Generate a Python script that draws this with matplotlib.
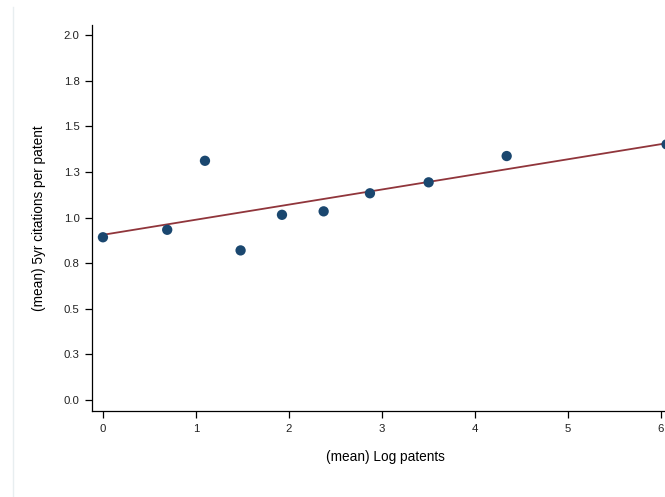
import matplotlib
matplotlib.use("Agg")
import matplotlib.pyplot as plt
from matplotlib.lines import Line2D
import numpy as np

# binned means
log_patents = [0.0, 0.691, 1.097, 1.48, 1.925, 2.373, 2.871, 3.502, 4.341, 6.06]
cites_5yr = [0.892, 0.933, 1.311, 0.820, 1.015, 1.034, 1.133, 1.193, 1.337, 1.401]

yticks = [0.0, 0.25, 0.5, 0.75, 1.0, 1.25, 1.5, 1.75, 2.0]
ytick_labels = ["0.0", "0.3", "0.5", "0.8", "1.0", "1.3", "1.5", "1.8", "2.0"]
xticks = [0, 1, 2, 3, 4, 5, 6]

plt.rcParams['font.family'] = ['Liberation Sans', 'DejaVu Sans']

fig = plt.figure(figsize=(6.65, 4.97), dpi=100)
fig.patch.set_facecolor("white")
# axes runs past the right edge of the figure, like the original
ax = fig.add_axes([0.1383, 0.173, 0.8836, 0.7767])

x = np.array(log_patents)
y = np.array(cites_5yr)
slope, intercept = np.polyfit(x, y, 1)
xx = np.array([x.min(), x.max()])
ax.plot(xx, intercept + slope * xx, color="#90353b", lw=1.3, zorder=2)
ax.scatter(x, y, s=55, color="#1a476f", edgecolors="none", zorder=3, clip_on=False)

ax.set_xlim(-0.118, 6.2)
ax.set_ylim(-0.06, 2.055)
ax.set_xticks(xticks)
ax.set_yticks(yticks)
ax.set_yticklabels(ytick_labels)

for s in ["top", "right"]:
    ax.spines[s].set_visible(False)
for s in ["left", "bottom"]:
    ax.spines[s].set_linewidth(0.9)
    ax.spines[s].set_color("#000000")

ax.tick_params(axis="both", length=5, width=0.9, labelsize=8.2, colors="#000000", labelcolor="#222222")
ax.tick_params(axis="y", pad=4)
ax.tick_params(axis="x", pad=4)

ax.set_xlabel("(mean) Log patents", fontsize=9.8, labelpad=12)
ax.set_ylabel("(mean) 5yr citations per patent", fontsize=9.8, labelpad=13)

# faint frame line on the left side
fig.add_artist(Line2D([12.5 / 665, 12.5 / 665], [0, 1 - 7 / 497], transform=fig.transFigure,
                      color="#e8eef0", lw=1))

fig.savefig("out.png", dpi=100, facecolor="white")
